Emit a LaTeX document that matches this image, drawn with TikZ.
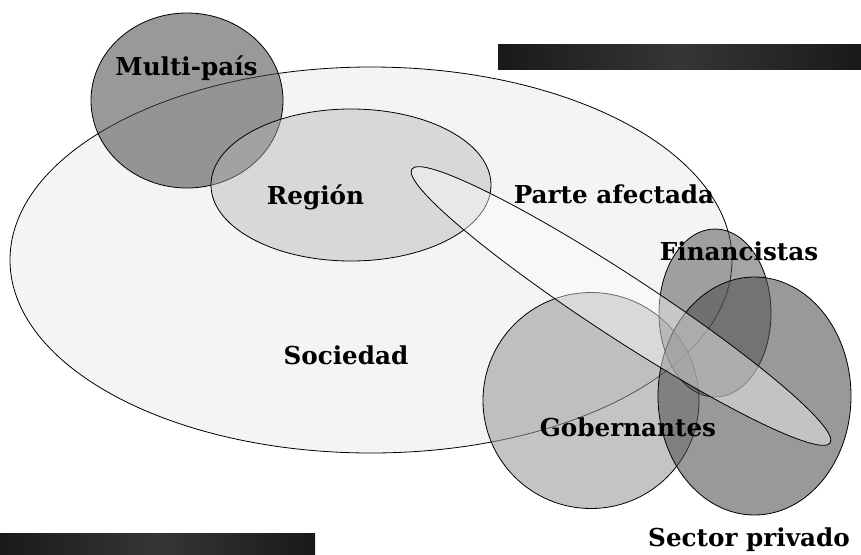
\documentclass[tikz,border=0pt]{standalone}
\usepackage{fontspec}
\setmainfont{DejaVu Serif}
\usepackage{tikz}
\usetikzlibrary{shapes.geometric}
\definecolor{back}{gray}{0.957}
\definecolor{dark}{gray}{0.31}
\definecolor{mid}{gray}{0.275}
\definecolor{pale}{gray}{0.714}
\definecolor{govt}{gray}{0.59}
\definecolor{bardark}{gray}{0.10}
\definecolor{barmid}{gray}{0.21}

\begin{document}
\begin{tikzpicture}[
  x = 0.75pt,
  y = -0.75pt,
  set/.style 2 args = {
    draw,
    ellipse,
    inner sep = 0pt,
    line width = 0.6pt,
    minimum width = #1*1.5pt,
    minimum height = #2*1.5pt,
  },
  society/.style = {
    fill = back,
  },
  country/.style = {
    fill = mid,
    fill opacity = 0.55,
  },
  region/.style = {
    fill = pale,
    fill opacity = 0.44,
  },
  govern/.style = {
    fill = govt,
    fill opacity = 0.56,
  },
  money/.style = {
    fill = dark,
    fill opacity = 0.51,
  },
  private/.style = {
    fill = dark,
    fill opacity = 0.58,
  },
  affected/.style = {
    fill = white,
    fill opacity = 0.42,
  },
  tag/.style = {
    anchor = base,
    inner sep = 0pt,
    font = \fontsize{18.5}{22}\selectfont\bfseries,
  },
  bar/.style = {
    left color = bardark,
    right color = bardark,
    middle color = barmid,
  },
]

  \useasboundingbox (0,0) rectangle (861,554);

  % dark bars
  \path[bar] (498,44) rectangle (861,69);
  \path[bar] (0,533) rectangle (315,554);

  % sets
  \node[set={361}{193},society] (soc) at (371,260) {};
  \node[set={96}{87.5},country] (multi) at (187,100.5) {};
  \node[set={140}{76},region] (reg) at (351,185) {};
  \node[set={108}{108},govern] (gob) at (591,400.5) {};
  \node[set={56}{84},money] (fin) at (715,313) {};
  \node[set={96.5}{119},private] (priv) at (754.5,396) {};
  \node[set={250}{31},affected,rotate=-33.2] (part) at (621,306) {};

  % labels
  \node[tag] (lmulti) at (186.5,75) {Multi-país};
  \node[tag] (lreg) at (315.5,204) {Región};
  \node[tag] (lpart) at (614,203) {Parte afectada};
  \node[tag] (lfin) at (739,260) {Financistas};
  \node[tag] (lsoc) at (346,364) {Sociedad};
  \node[tag] (lgob) at (628,436) {Gobernantes};
  \node[tag] (lpriv) at (749,546) {Sector privado};

\end{tikzpicture}
\end{document}
